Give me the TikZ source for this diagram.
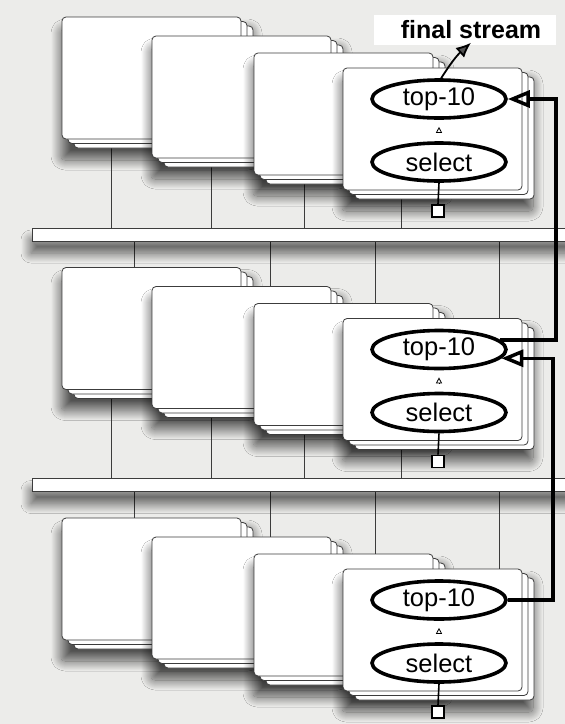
\documentclass[tikz,border=0pt]{standalone}
\usepackage{fontspec}
\setmainfont{Liberation Sans}
\usetikzlibrary{arrows.meta,shapes.geometric,shadows.blur}

\definecolor{paper}{RGB}{236,236,234}
\definecolor{edge}{RGB}{60,60,60}

\tikzset{
    card/.style={draw=edge, fill=white, line width=0.8pt, rounded corners=4pt},
    stackshadow/.style={rounded corners=4pt,
        blur shadow={shadow xshift=-1pt, shadow yshift=-12pt,
            shadow blur radius=10pt, shadow blur steps=20, shadow opacity=65}},
    bar/.style={draw=edge, fill=white, line width=0.8pt},
    wire/.style={draw=edge, line width=0.8pt},
    op/.style={ellipse, draw, fill=white, line width=3.6pt,
        minimum width=134pt, minimum height=38pt, inner sep=0pt,
        font=\fontsize{25.5}{30}\selectfont},
    port/.style={rectangle, draw, fill=white, line width=1.6pt,
        minimum size=12pt, inner sep=0pt},
    feed/.style={line width=3.5pt, -{Triangle[open, length=22pt, width=17pt]}},
    hop/.style={line width=0.8pt, -{Triangle[open, length=6pt, width=6pt]},
        shorten <=9pt, shorten >=7pt}
}

\newcommand{\cardstack}[2]{%
    \path[stackshadow] (#1,#2) rectangle ++(191,131);
    \draw[card] ({#1+12},{#2+9}) rectangle ++(179,122);
    \draw[card] ({#1+6},{#2+4.5}) rectangle ++(179,122);
    \draw[card] (#1,#2) rectangle ++(179,122);
}

\begin{document}
\begin{tikzpicture}[x=1pt, y=-1pt]
    \fill[paper] (0,0) rectangle (565,724);

    % links between the tiers and the buses
    \foreach \dy in {0, 250.5} {
        \draw[wire]
            (111,130+\dy) -- (111,228+\dy)
            (211,150+\dy) -- (211,228+\dy)
            (304,170+\dy) -- (304,228+\dy)
            (401,180+\dy) -- (401,228+\dy)
            (134,241+\dy) -- (134,330+\dy)
            (270,241+\dy) -- (270,330+\dy)
            (375,241+\dy) -- (375,330+\dy)
            (499,241+\dy) -- (499,330+\dy);
        \path[stackshadow, rounded corners=0pt] (32,228+\dy) rectangle (580,241+\dy);
        \draw[bar] (32,228+\dy) rectangle (580,241+\dy);
    }

    % tiers
    \foreach \t/\dy in {a/0, b/250.5, c/501} {
        \cardstack{62}{17+\dy}
        \cardstack{152}{36+\dy}
        \cardstack{254}{53+\dy}
        \cardstack{343}{68+\dy}
        \node[op] (top-\t) at (439,99+\dy) {top-10};
        \node[op] (sel-\t) at (439,162+\dy) {select};
        \node[port] (port-\t) at (438,211+\dy) {};
        \draw[hop] (sel-\t.north) -- (top-\t.south);
        \draw[line width=1.6pt] (sel-\t.south) -- (port-\t.north);
    }

    % merge path
    \coordinate (rail-1) at (556,0);
    \coordinate (rail-2) at (553,0);
    \draw[feed] (top-b.9) -| (top-a.east -| rail-1) -- (top-a.east);
    \draw[feed] (top-c.east) -| (top-b.-8 -| rail-2) -- (top-b.-8);

    \fill[white] (374,15) rectangle (556,45);
    \node[font=\bfseries\fontsize{25}{30}\selectfont] (stream) at (471,30) {final stream};
    \draw[line width=1.8pt, -{Latex[length=15pt, width=13pt]}]
        (top-a.84) to[bend left=8] (stream.south);

    \pgfresetboundingbox
    \path[use as bounding box] (0,0) rectangle (565,724);
\end{tikzpicture}
\end{document}
